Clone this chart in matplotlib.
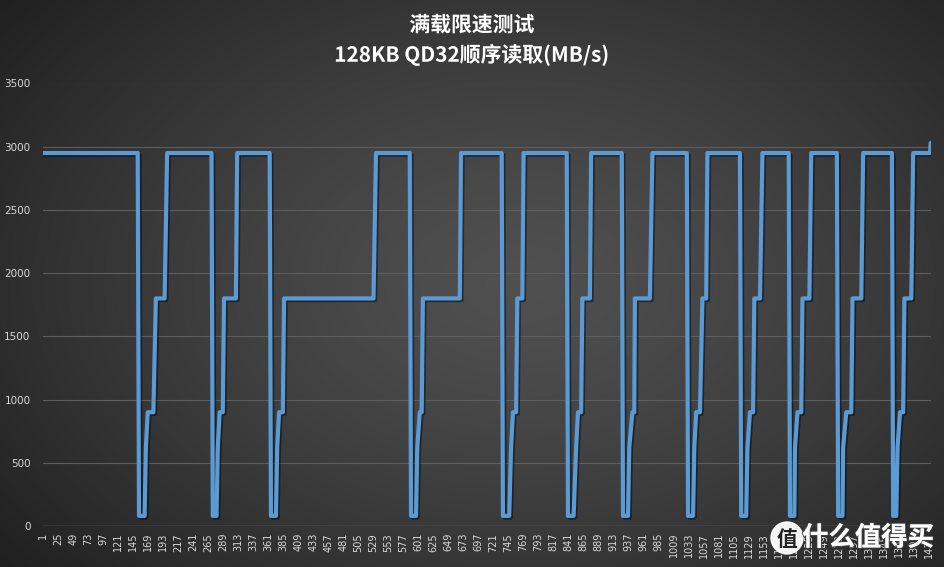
import numpy as np
import matplotlib
matplotlib.use("Agg")
import matplotlib.pyplot as plt
import matplotlib.patheffects as pe
from matplotlib.patches import Circle

plt.rcParams['font.family'] = ['Noto Sans CJK SC', 'DejaVu Sans']

# ---------------- data (category index = sample number) ----------------
n_points = 1420
title_1 = "满载限速测试"
title_2 = "128KB QD32顺序读取(MB/s)"
y_ticks = [0, 500, 1000, 1500, 2000, 2500, 3000, 3500]
x_tick_labels = list(range(1, 1418, 24))

# levels (MB/s)
level_top = 2950
level_low = 80
level_1 = 620
level_2 = 900
level_3 = 1800
level_last = 3030

# per-cycle sample indices of each transition
top_end    = [152, 270, 363, 587, 734, 838, 926, 1030, 1115, 1193, 1270, 1358]
low_start  = [154, 272, 365, 589, 736, 840, 928, 1032, 1117, 1195, 1272, 1360]
low_end    = [163, 278, 373, 597, 746, 849, 936, 1040, 1125, 1202, 1279, 1365]
rise_1     = [165, 280, 375, 599, 749, 853, 938, 1042, 1127, 1203, 1280, 1367]
rise_2     = [168, 283, 378, 603, 752, 856, 943, 1045, 1131, 1207, 1285, 1371]
end_2      = [177, 288, 384, 606, 757, 861, 946, 1051, 1136, 1213, 1293, 1376]
rise_3     = [181, 290, 386, 608, 759, 863, 947, 1055, 1138, 1215, 1295, 1378]
end_3      = [195, 309, 529, 667, 767, 875, 971, 1061, 1147, 1226, 1309, 1389]
rise_top   = [199, 311, 533, 669, 769, 877, 975, 1063, 1151, 1229, 1312, 1392]
first_idx = 1
final_top_idx = 1419
final_idx = 1420

# ---------------- build vertices ----------------
xs = [first_idx]
ys = [level_top]
for i in range(len(top_end)):
    xs += [top_end[i], low_start[i], low_end[i], rise_1[i], rise_2[i],
           end_2[i], rise_3[i], end_3[i], rise_top[i]]
    ys += [level_top, level_low, level_low, level_1, level_2,
           level_2, level_3, level_3, level_top]
xs += [final_top_idx, final_idx]
ys += [level_top, level_last]

# ---------------- figure ----------------
W, H = 945, 567
fig = plt.figure(figsize=(W / 100, H / 100), dpi=100)

# radial dark gradient background
bg = fig.add_axes([0, 0, 1, 1], zorder=-10)
gx, gy = np.meshgrid(np.linspace(0, 1, 400), np.linspace(0, 1, 240))
r = np.sqrt(((gx - 0.55) / 0.75) ** 2 + ((gy - 0.5) / 0.85) ** 2)
r = np.clip(r, 0, 1)
v = (0x50 - (0x50 - 0x1c) * r ** 1.3) / 255.0
img = np.dstack([v, v, v])
bg.imshow(img, extent=[0, 1, 0, 1], origin='upper', aspect='auto')
bg.set_axis_off()

left, right = 43 / W, 931 / W
bottom, top = (H - 526) / H, (H - 83.5) / H
ax = fig.add_axes([left, bottom, right - left, top - bottom])
ax.patch.set_alpha(0)

ax.plot(xs, ys, color='#5B9BD5', lw=3.0, solid_joinstyle='round',
        solid_capstyle='round', zorder=3,
        path_effects=[pe.SimpleLineShadow(offset=(1.2, -1.2), shadow_color='black', alpha=0.45),
                      pe.Normal()])

ax.set_xlim(0.5, n_points + 0.5)
ax.set_ylim(0, 3500)
ax.set_yticks(y_ticks)
ax.set_yticklabels([str(t) for t in y_ticks], color='#d9d9d9', fontsize=7.5,
                   family=['DejaVu Sans'])
ax.set_xticks(x_tick_labels)
ax.set_xticklabels([str(t) for t in x_tick_labels], rotation=90, color='#d9d9d9',
                   fontsize=7, family=['DejaVu Sans'])
ax.tick_params(axis='both', length=0)
ax.tick_params(axis='y', pad=9)
ax.tick_params(axis='x', pad=5)

for t in y_ticks[1:]:
    ax.axhline(t, color='#5e5e5e', lw=0.8, zorder=1)
ax.axhline(0, color='#6a6a6a', lw=1.0, zorder=2)
for s in ax.spines.values():
    s.set_visible(False)

shadow = [pe.withStroke(linewidth=0), pe.withSimplePatchShadow(offset=(1, -1), shadow_rgbFace='black', alpha=0.6)]
fig.text(472 / W, 1 - 25 / H, title_1, ha='center', va='center', color='white',
         fontsize=15, fontweight='bold',
         path_effects=[pe.SimpleLineShadow(offset=(1, -1)), pe.Normal()])
fig.text(472 / W, 1 - 55 / H, title_2, ha='center', va='center', color='white',
         fontsize=15, fontweight='bold',
         path_effects=[pe.SimpleLineShadow(offset=(1, -1)), pe.Normal()])

# watermark
wm_ax = fig.add_axes([0, 0, 1, 1], zorder=20)
wm_ax.set_xlim(0, W)
wm_ax.set_ylim(H, 0)
wm_ax.set_axis_off()
wm_ax.add_patch(Circle((787, 538), 16, color='white', alpha=0.95))
wm_ax.text(787, 539, "值", ha='center', va='center', fontsize=15, fontweight='bold', color='#222222')
wm_ax.text(868, 538, "什么值得买", ha='center', va='center', fontsize=19, fontweight='bold',
           color='white', alpha=0.95,
           path_effects=[pe.withStroke(linewidth=1.5, foreground='#444444'), pe.Normal()])

fig.savefig("out.png", dpi=100)
